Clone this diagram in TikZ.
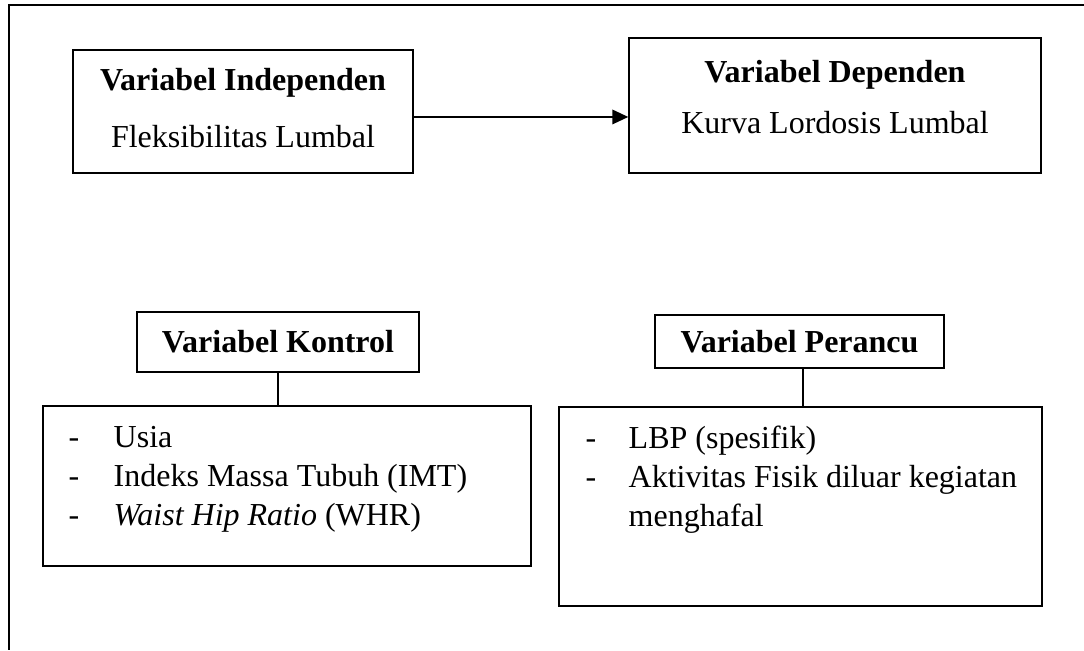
\documentclass[tikz,border=0pt]{standalone}
\usepackage{fontspec}
\setmainfont{Liberation Serif}
\usepackage{array}
\usetikzlibrary{arrows.meta,positioning}

\begin{document}
\begin{tikzpicture}[x=0.75pt,y=-0.75pt,line width=1.1pt,
    every node/.style={font=\fontsize{24}{29.25}\selectfont,inner sep=0pt},
    varbox/.style={draw,line width=1.1pt,align=center}]
      \useasboundingbox (0,0) rectangle (1084,650);
      \draw (1084,5) -- (9,5) -- (9,650);
      % top row
      \node[varbox,minimum width=255pt,minimum height=92.25pt,text depth=6pt] (indep) at (243,111.5)
        {\textbf{Variabel Independen}\\[13.5pt]Fleksibilitas Lumbal};
      \node[varbox,minimum width=309pt,minimum height=101.25pt,text depth=13.5pt] (dep) at (835,105.5)
        {\textbf{Variabel Dependen}\\[9pt]Kurva Lordosis Lumbal};
      \draw[-{Triangle[length=12pt,width=11pt]}] ([yshift=-4.1pt]indep.east) -- ([yshift=-4.1pt]indep.east -| dep.west);
      % kontrol
      \node[varbox,minimum width=211.5pt,minimum height=45pt] (khdr) at (278,342) {\textbf{Variabel Kontrol}};
      \node[varbox,minimum width=366pt,minimum height=120pt] (klist) at (287,486) {};
      \node[anchor=base west] (kitems) at (68,447)
        {\begin{tabular}[t]{@{}p{33.75pt}@{}l@{}}
          - & Usia\\
          - & Indeks Massa Tubuh (IMT)\\
          - & \textit{Waist Hip Ratio} (WHR)
        \end{tabular}};
      \draw (khdr.south) -- (khdr.south |- klist.north);
      % perancu
      \node[varbox,minimum width=216.75pt,minimum height=39.75pt] (phdr) at (799.5,341.5) {\textbf{Variabel Perancu}};
      \node[varbox,minimum width=362.25pt,minimum height=149.25pt] (plist) at (800.5,506.5) {};
      \node[anchor=base west] (pitems) at (585,448)
        {\begin{tabular}[t]{@{}p{32.25pt}@{}l@{}}
          - & LBP (spesifik)\\
          - & Aktivitas Fisik diluar kegiatan\\
            & menghafal
        \end{tabular}};
      \draw ([xshift=2.6pt]phdr.south) -- ([xshift=2.6pt]phdr.south |- plist.north);
    \end{tikzpicture}
\end{document}
